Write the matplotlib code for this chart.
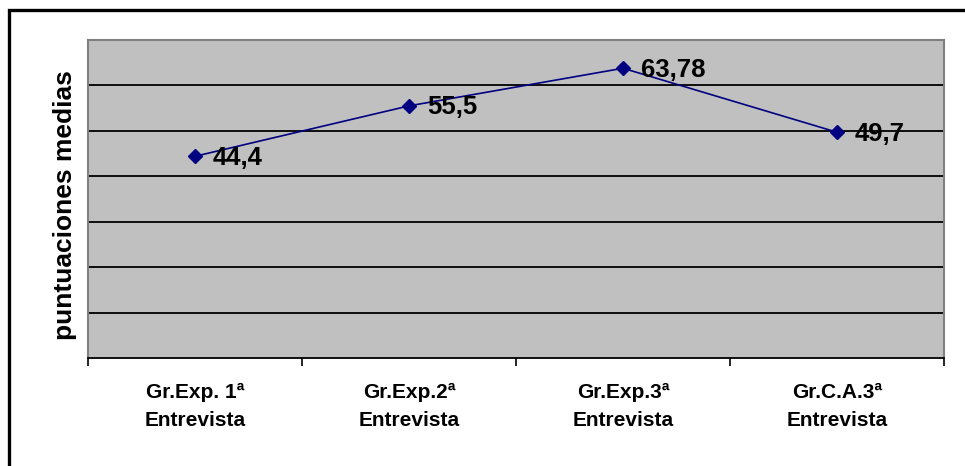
import matplotlib.pyplot as plt
from matplotlib.patches import Rectangle

plt.rcParams['font.family'] = ['Liberation Sans', 'DejaVu Sans']

categories = ["Gr.Exp. 1ª\nEntrevista", "Gr.Exp.2ª\nEntrevista",
              "Gr.Exp.3ª\nEntrevista", "Gr.C.A.3ª\nEntrevista"]
values = [44.4, 55.5, 63.78, 49.7]
value_labels = ["44,4", "55,5", "63,78", "49,7"]

fig = plt.figure(figsize=(9.65, 4.66), dpi=100)

# outer frame (only left and top edges are visible)
fig.patches.append(Rectangle((9 / 965, -0.1), 1.2, 1.1 - 10 / 466,
                             transform=fig.transFigure, fill=False,
                             edgecolor='black', linewidth=2.4))

ax = fig.add_axes([88 / 965, 108 / 466, 856 / 965, 318 / 466])
ax.set_facecolor('#c0c0c0')

x = list(range(len(values)))
ax.plot(x, values, color='#000080', linewidth=1.2, marker='D',
        markersize=7, markerfacecolor='#000080', markeredgecolor='#000080',
        zorder=3)

for xi, v, lab in zip(x, values, value_labels):
    ax.annotate(lab, (xi, v), xytext=(13, -1), textcoords='offset points',
                fontsize=18.5, fontweight='bold', va='center', ha='left',
                zorder=4)

ax.set_xlim(-0.5, len(values) - 0.5)
ax.set_ylim(0, 70)

# gridlines
for g in range(10, 70, 10):
    ax.axhline(g, color='black', linewidth=1.3, zorder=1)

ax.set_yticks([])
ax.set_xticks(x)
ax.set_xticklabels(categories, fontsize=15, fontweight='bold', linespacing=1.6)
ax.tick_params(axis='x', which='major', length=0, pad=18)
ax.set_xticks([i - 0.5 for i in range(len(values) + 1)], minor=True)
ax.tick_params(axis='x', which='minor', length=6, width=1.2, color='black')

for side in ['top', 'right', 'left']:
    ax.spines[side].set_color('#808080')
    ax.spines[side].set_linewidth(1.5)
ax.spines['bottom'].set_color('black')
ax.spines['bottom'].set_linewidth(1.3)

ax.set_ylabel("puntuaciones medias", fontsize=19, fontweight='bold')
ax.yaxis.set_label_coords(-11 / 856, 0.48)

fig.savefig('out.png', dpi=100)
